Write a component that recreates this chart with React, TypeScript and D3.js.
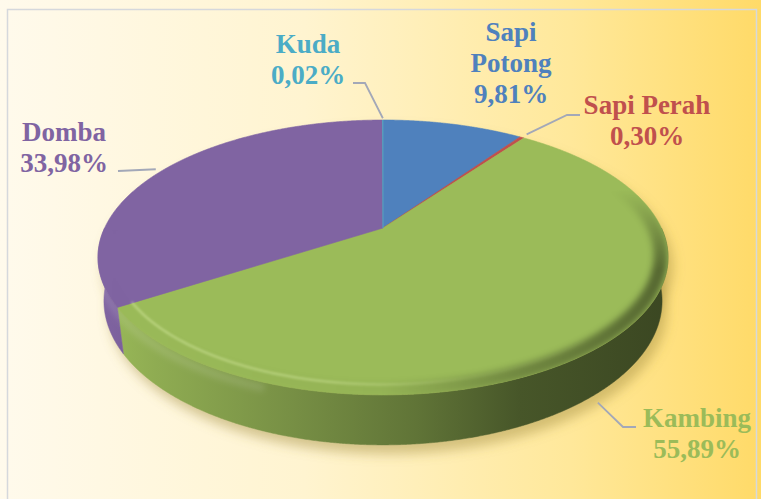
import React from "react";
import * as d3 from "d3";

// ---- data ----
const categories = ["Sapi Potong", "Sapi Perah", "Kambing", "Domba", "Kuda"];
const values = [9.81, 0.3, 55.89, 33.98, 0.02];
const labelNames = [["Sapi", "Potong"], ["Sapi Perah"], ["Kambing"], ["Domba"], ["Kuda"]];
const colors = ["#4f81bd", "#c0504d", "#9bbb59", "#8064a2", "#4bacc6"];

// ---- layout (label boxes and leader elbows) ----
const labelLayout = [
  { x: 511, y: 41, leader: [] as number[][], r: 1, h: 0, off: [0, 0] },
  { x: 647, y: 114, leader: [[580, 115], [567, 115]], r: 1.04, h: 0, off: [0, 0] },
  { x: 697, y: 427, leader: [[636, 427], [623, 427]], r: 1.0, h: -1, off: [-5, 13] },
  { x: 64, y: 141, leader: [[118, 171]], r: 1.03, h: 0, off: [0, 0] },
  { x: 308, y: 53, leader: [[353, 83], [365, 83]], r: 1.02, h: 0, off: [0, 0] },
];

const W = 761;
const H = 499;
const CX = 383;
const CY = 228;
const KR = 278.4;
const S = 0.471;
const C = 0.882;
const U = 0.243;
const DEPTH = 0.178;
const LINE = 31;

const fmt = (v: number) => d3.format(".2f")(v).replace(".", ",") + "%";

function project(theta: number, r: number, h: number): [number, number] {
  const x = r * Math.sin(theta);
  const z = -r * Math.cos(theta);
  const yw = -h * C + z * S;
  const dep = 1 - U * (z * C + h * S);
  return [CX + (KR * x) / dep, CY + (KR * yw) / dep];
}

function arcPts(a0: number, a1: number, r: number, h: number): [number, number][] {
  const pts: [number, number][] = [];
  const step = Math.PI / 720;
  const n = Math.max(2, Math.ceil(Math.abs(a1 - a0) / step));
  for (let i = 0; i <= n; i++) pts.push(project(a0 + ((a1 - a0) * i) / n, r, h));
  return pts;
}

const line = d3.line<[number, number]>();
const rad = (deg: number) => (deg * Math.PI) / 180;

function scaleColor(c: string, f: number) {
  const k = d3.rgb(c);
  return d3.rgb(Math.min(255, k.r * f), Math.min(255, k.g * f), Math.min(255, k.b * f)).formatHex();
}

const wallStops = [
  [0, 1.0],
  [0.1, 0.92],
  [0.35, 0.76],
  [0.56, 0.62],
  [0.74, 0.46],
  [1, 0.38],
];

export default function App() {
  const arcs = d3.pie<number>().sort(null).value((d) => d)(values);
  const center = project(0, 0, 0);
  const fullTop = line(arcPts(0, 2 * Math.PI, 1, 0)) + "Z";
  const fullBottom = line(arcPts(0, 2 * Math.PI, 1, -DEPTH)) + "Z";

  const walls = arcs.map((a, i) => {
    const s = Math.max(a.startAngle, Math.PI / 2);
    const e = Math.min(a.endAngle, (3 * Math.PI) / 2);
    if (e <= s) return null;
    const top = arcPts(s, e, 1, 0);
    const bot = arcPts(s, e, 1, -DEPTH).reverse();
    return { i, d: line([...top, ...bot]) + "Z" };
  });
  const wallAll = line([...arcPts(rad(90), rad(270), 1, 0), ...arcPts(rad(90), rad(270), 1, -DEPTH).reverse()]) + "Z";

  const tops = arcs.map((a, i) => ({
    i,
    d: line([center, ...arcPts(a.startAngle, a.endAngle, 1, 0)]) + "Z",
  }));

  const rimOuter = line(arcPts(rad(50), rad(290), 0.975, 0));
  const rimHi = line(arcPts(rad(140), rad(238), 0.95, 0));
  const wallHi = line(arcPts(rad(200), rad(270), 1, -0.02));

  return (
    <svg
      width={W}
      height={H}
      style={{ position: "absolute", left: 0, top: 0, display: "block" }}
      fontFamily="'Liberation Serif', 'DejaVu Serif', serif"
    >
      <defs>
        <linearGradient id="bg" x1="0" x2="1" y1="0" y2="0">
          <stop offset="0" stopColor="#fffaec" />
          <stop offset="0.4" stopColor="#fff4d0" />
          <stop offset="0.75" stopColor="#ffe89a" />
          <stop offset="1" stopColor="#ffda68" />
        </linearGradient>
        {colors.map((c, i) => (
          <linearGradient key={i} id={`wall${i}`} gradientUnits="userSpaceOnUse" x1={98} x2={668} y1={0} y2={0}>
            {wallStops.map(([o, f], j) => (
              <stop key={j} offset={o} stopColor={scaleColor(c, f)} />
            ))}
          </linearGradient>
        ))}
        <linearGradient id="rimGrad" gradientUnits="userSpaceOnUse" x1={98} x2={668} y1={0} y2={0}>
          <stop offset="0" stopColor="#000000" stopOpacity={0.0} />
          <stop offset="0.5" stopColor="#000000" stopOpacity={0.04} />
          <stop offset="0.75" stopColor="#000000" stopOpacity={0.28} />
          <stop offset="1" stopColor="#000000" stopOpacity={0.45} />
        </linearGradient>
        <linearGradient id="fadeGrad" gradientUnits="userSpaceOnUse" x1={0} x2={0} y1={190} y2={270}>
          <stop offset="0" stopColor="#ffffff" stopOpacity={0} />
          <stop offset="1" stopColor="#ffffff" stopOpacity={1} />
        </linearGradient>
        <mask id="rimMask" maskUnits="userSpaceOnUse" x={0} y={0} width={W} height={H}>
          <rect x={0} y={0} width={W} height={H} fill="url(#fadeGrad)" />
        </mask>
        <linearGradient id="hiGrad" gradientUnits="userSpaceOnUse" x1={98} x2={668} y1={0} y2={0}>
          <stop offset="0" stopColor="#f0ffc0" stopOpacity={0.35} />
          <stop offset="0.4" stopColor="#f0ffc0" stopOpacity={0.3} />
          <stop offset="0.65" stopColor="#f0ffc0" stopOpacity={0.05} />
          <stop offset="1" stopColor="#ffffff" stopOpacity={0} />
        </linearGradient>
        <filter id="shadowBlur" x="-20%" y="-20%" width="140%" height="140%">
          <feGaussianBlur stdDeviation={6} />
        </filter>
        <filter id="rimBlur" x="-10%" y="-10%" width="120%" height="120%">
          <feGaussianBlur stdDeviation={3} />
        </filter>
        <filter id="hiBlur" x="-10%" y="-10%" width="120%" height="120%">
          <feGaussianBlur stdDeviation={1.3} />
        </filter>
        <clipPath id="topClip">
          <path d={fullTop} />
        </clipPath>
        <clipPath id="wallClip">
          <path d={wallAll} />
        </clipPath>
      </defs>

      <rect x={0} y={0} width={W} height={H} fill="url(#bg)" />
      <rect x={7.5} y={9.5} width={749} height={500} fill="none" stroke="#d5d8dc" strokeWidth={1.5} />

      {/* shadow */}
      <g transform="translate(5,9)" filter="url(#shadowBlur)" fill="#a08a3c" fillOpacity={0.45}>
        <path d={fullBottom} />
        <path d={fullTop} />
      </g>

      {/* side walls */}
      {walls.map((w) =>
        w ? <path key={w.i} d={w.d} fill={`url(#wall${w.i})`} stroke={`url(#wall${w.i})`} strokeWidth={0.5} /> : null
      )}
      <g clipPath="url(#wallClip)">
        <path d={wallHi || ""} fill="none" stroke="#ffffff" strokeOpacity={0.12} strokeWidth={8} filter="url(#rimBlur)" />
      </g>

      {/* top faces */}
      {tops.map((t) => (
        <path key={t.i} d={t.d} fill={colors[t.i]} stroke={colors[t.i]} strokeWidth={0.6} strokeLinejoin="round" />
      ))}

      {/* bevel */}
      <g clipPath="url(#topClip)">
        <g mask="url(#rimMask)">
          <path d={rimOuter || ""} fill="none" stroke="url(#rimGrad)" strokeWidth={14} filter="url(#rimBlur)" />
        </g>
        <path d={rimHi || ""} fill="none" stroke="url(#hiGrad)" strokeWidth={2.5} filter="url(#hiBlur)" />
      </g>

      {/* leaders */}
      {arcs.map((a, i) => {
        const L = labelLayout[i];
        if (!L.leader.length) return null;
        const mid = (a.startAngle + a.endAngle) / 2;
        const p = project(mid, L.r, L.h * DEPTH);
        const anchor: [number, number] = [p[0] + L.off[0], p[1] + L.off[1]];
        const pts = [...(L.leader as [number, number][]), anchor];
        return <path key={i} d={line(pts) || ""} fill="none" stroke="#a3a8b8" strokeWidth={1.8} />;
      })}

      {/* labels */}
      {categories.map((c, i) => {
        const L = labelLayout[i];
        const lines = [...labelNames[i], fmt(values[i])];
        return (
          <text key={c} x={L.x} y={L.y} fill={colors[i]} fontSize={27} fontWeight="bold" textAnchor="middle">
            {lines.map((t, j) => (
              <tspan key={j} x={L.x} y={L.y + j * LINE}>
                {t}
              </tspan>
            ))}
          </text>
        );
      })}
    </svg>
  );
}
